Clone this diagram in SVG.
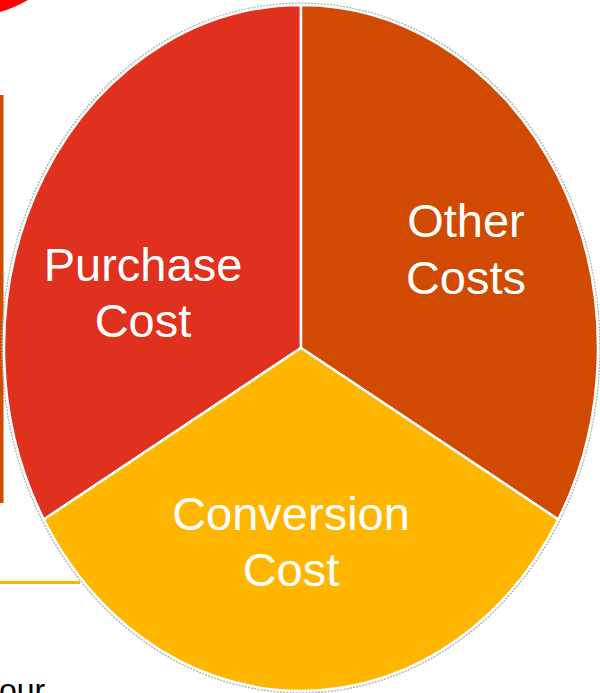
<svg xmlns="http://www.w3.org/2000/svg" width="600" height="693" viewBox="0 0 600 693">
  <style>
    .slice { stroke: #ffffff; stroke-width: 2.5; stroke-linejoin: round; }
    .lbl { font-family: "Liberation Sans", Arial, sans-serif; font-size: 47px; fill: #ffffff; text-anchor: middle; }
  </style>
  <rect width="600" height="693" fill="#ffffff"/>
  <!-- background fragments -->
  <path d="M0 0 L28 0 Q 14 8 0 12 Z" fill="#ff0000"/>
  <rect x="0" y="95" width="3.5" height="408" fill="#d04a02"/>
  <rect x="0" y="581" width="80" height="3" fill="#ffb600"/>
  <text x="-1" y="701" font-family="'Liberation Sans', Arial, sans-serif" font-size="32" fill="#000000">our</text>

  <ellipse cx="301" cy="348" rx="298.5" ry="344.5" fill="none" stroke="#b4b4b4" stroke-width="2.2" stroke-dasharray="2 1.2"/>

  <g id="purchase-cost">
    <path class="slice" d="M301 348 L301 5 A297 343 0 0 0 43.8 519.5 Z" fill="#e0301e"/>
    <text class="lbl" x="143" y="281">Purchase</text>
    <text class="lbl" x="143" y="337">Cost</text>
  </g>
  <g id="other-costs">
    <path class="slice" d="M301 348 L301 5 A297 343 0 0 1 558.2 519.5 Z" fill="#d04a02"/>
    <text class="lbl" x="466" y="237">Other</text>
    <text class="lbl" x="466" y="294">Costs</text>
  </g>
  <g id="conversion-cost">
    <path class="slice" d="M301 348 L558.2 519.5 A297 343 0 0 1 43.8 519.5 Z" fill="#ffb600"/>
    <text class="lbl" x="291" y="530">Conversion</text>
    <text class="lbl" x="291" y="586">Cost</text>
  </g>
  <g id="connectors"/>
</svg>
